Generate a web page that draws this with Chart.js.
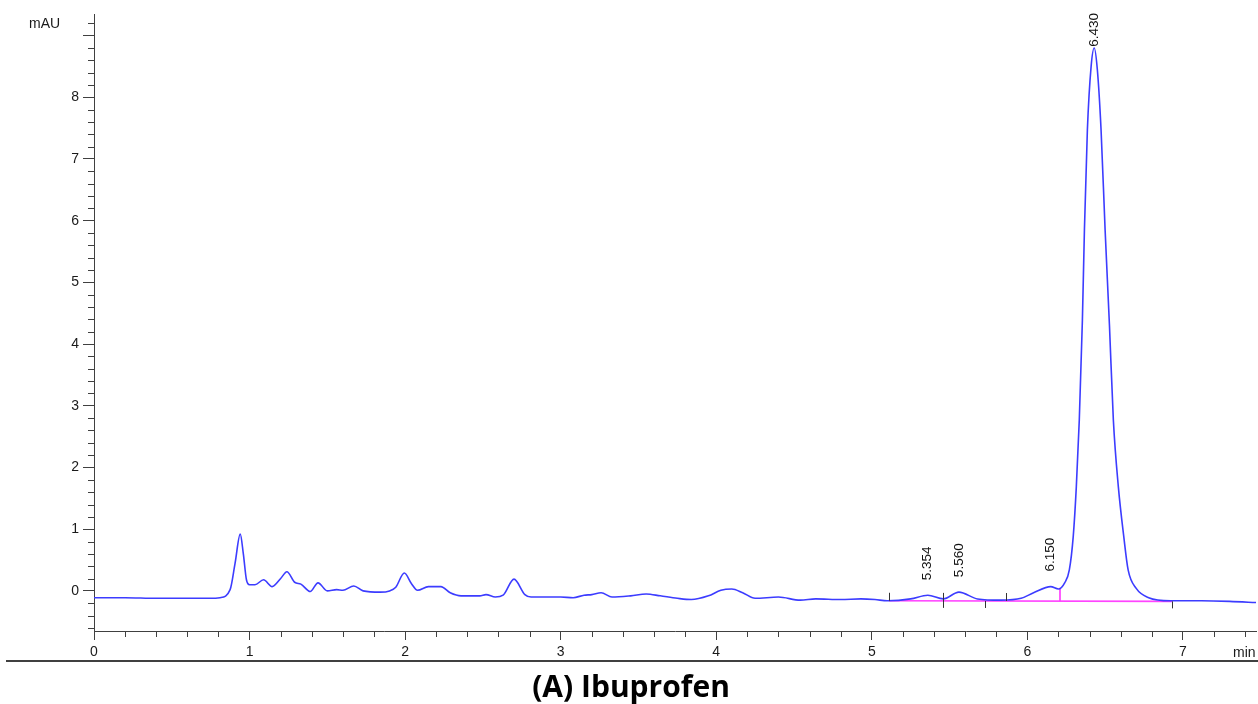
<!DOCTYPE html>
<html>
<head>
<meta charset="utf-8">
<script src="https://cdn.jsdelivr.net/npm/chart.js@4.4.1/dist/chart.umd.min.js"></script>
<style>
html,body{margin:0;padding:0;background:#fff;}
canvas{display:block;}
</style>
</head>
<body>
<canvas id="c" width="1258" height="704"></canvas>
<script>
// ---- data ----
const times = [0,0.2,0.4,0.6,0.75,0.81,0.875,0.907,0.94,0.96,0.98,1.0,1.035,1.09,1.145,1.2,1.24,1.29,1.33,1.39,1.44,1.5,1.56,1.6,1.67,1.73,1.84,1.9,1.94,1.995,2.04,2.08,2.15,2.23,2.29,2.36,2.48,2.52,2.58,2.63,2.7,2.77,2.81,3.0,3.08,3.15,3.2,3.26,3.33,3.45,3.55,3.64,3.75,3.84,3.95,4.03,4.1,4.17,4.25,4.4,4.54,4.64,4.8,4.93,5.02,5.1,5.25,5.36,5.46,5.56,5.68,5.83,5.96,6.04,6.15,6.2,6.24,6.27,6.295,6.315,6.334,6.354,6.367,6.386,6.41,6.43,6.45,6.474,6.5,6.528,6.553,6.585,6.62,6.648,6.7,6.78,6.92,7.12,7.3,7.48];
const signal = [-0.11,-0.11,-0.12,-0.12,-0.12,-0.11,0.02,0.45,0.92,0.6,0.18,0.1,0.1,0.18,0.07,0.2,0.31,0.14,0.11,-0.01,0.13,0.0,0.02,0.01,0.08,0.0,-0.02,0.0,0.06,0.29,0.12,0.01,0.07,0.07,-0.03,-0.08,-0.08,-0.06,-0.1,-0.07,0.19,-0.06,-0.1,-0.1,-0.11,-0.07,-0.06,-0.03,-0.1,-0.08,-0.05,-0.08,-0.12,-0.14,-0.08,0.01,0.03,-0.03,-0.12,-0.1,-0.15,-0.13,-0.14,-0.13,-0.14,-0.16,-0.13,-0.07,-0.13,-0.02,-0.13,-0.15,-0.12,-0.03,0.07,0.03,0.13,0.34,0.88,1.69,2.77,4.39,5.85,7.47,8.5,8.8,8.45,7.47,5.85,4.3,2.77,1.69,0.88,0.34,0.04,-0.11,-0.16,-0.16,-0.17,-0.19];

const baselineTimes = [5.11, 6.93];
const baselineValues = [-0.16, -0.17];
const dropTime = 6.21;
const dropTop = 0.05;

const peakTimes = [5.354, 5.560, 6.150, 6.430];
const peakApex = [-0.07, -0.02, 0.07, 8.8];

const eventTimes = [5.11, 5.46, 5.73, 5.86, 6.93];
const eventKinds = ['up', 'both', 'down', 'up', 'down'];

const xTicks = [0,1,2,3,4,5,6,7];
const xTickLabels = ['0','1','2','3','4','5','6','7'];
const yTicks = [0,1,2,3,4,5,6,7,8,9];
const yTickLabels = ['0','1','2','3','4','5','6','7','8',''];

const yUnit = 'mAU';
const xUnit = 'min';
const figTitle = '(A) Ibuprofen';

// ---- build ----
const tracePts = times.map((t,i)=>({x:t, y:signal[i]}));
const basePts = baselineTimes.map((t,i)=>({x:t, y:baselineValues[i]}));
function baseAt(t){
  const f=(t-baselineTimes[0])/(baselineTimes[1]-baselineTimes[0]);
  return baselineValues[0]+f*(baselineValues[1]-baselineValues[0]);
}
const dropPts = [{x:dropTime, y:baseAt(dropTime)}, {x:dropTime, y:dropTop}];

const AXIS = '#404040';
const TXT = '#1a1a1a';

const deco = {
  id:'deco',
  afterDatasetsDraw(chart){
    const {ctx, scales:{x,y}} = chart;
    ctx.save();
    ctx.strokeStyle = '#333';
    ctx.lineWidth = 1;
    eventTimes.forEach((t,i)=>{
      const px = Math.round(x.getPixelForValue(t))+0.5;
      const py = y.getPixelForValue(baseAt(t));
      const k = eventKinds[i];
      const up = (k==='up'||k==='both') ? 8 : 0;
      const dn = (k==='down'||k==='both') ? 7 : 0;
      ctx.beginPath();
      ctx.moveTo(px, py-up);
      ctx.lineTo(px, py+dn);
      ctx.stroke();
    });
    ctx.fillStyle = '#111';
    ctx.font = '13.5px "Liberation Sans", Arial, sans-serif';
    ctx.textAlign = 'left';
    ctx.textBaseline = 'middle';
    peakTimes.forEach((t,i)=>{
      const txt = t.toFixed(3);
      const w = ctx.measureText(txt).width;
      const px = x.getPixelForValue(t);
      let by = y.getPixelForValue(peakApex[i]) - 15;
      by = Math.max(by, 13 + w);
      ctx.save();
      ctx.translate(px, by);
      ctx.rotate(-Math.PI/2);
      ctx.fillText(txt, 0, 0);
      ctx.restore();
    });
    ctx.restore();
  },
  afterDraw(chart){
    const {ctx, scales:{x,y}, chartArea:a} = chart;
    ctx.save();
    ctx.strokeStyle = AXIS;
    ctx.lineWidth = 1;
    for (let k=-3; k<=46; k++){
      if (k%5===0) continue;
      const v = k/5;
      const py = Math.round(y.getPixelForValue(v))+0.5;
      if (py < a.top || py > a.bottom) continue;
      ctx.beginPath(); ctx.moveTo(a.left-6, py); ctx.lineTo(a.left, py); ctx.stroke();
    }
    for (let k=1; k<=37; k++){
      if (k%5===0) continue;
      const v = k/5;
      const px = Math.round(x.getPixelForValue(v))+0.5;
      if (px > a.right) continue;
      ctx.beginPath(); ctx.moveTo(px, a.bottom); ctx.lineTo(px, a.bottom+6); ctx.stroke();
    }
    ctx.fillStyle = TXT;
    ctx.font = '14px "Liberation Sans", Arial, sans-serif';
    ctx.textBaseline = 'middle';
    ctx.textAlign = 'left';
    ctx.fillText(yUnit, 29, 24);
    ctx.fillText(xUnit, 1233, 653);
    ctx.strokeStyle = '#000';
    ctx.lineWidth = 1.5;
    ctx.beginPath(); ctx.moveTo(6, 661); ctx.lineTo(1258, 661); ctx.stroke();
    ctx.fillStyle = '#000';
    ctx.font = 'bold 30px "Open Sans", sans-serif';
    ctx.textAlign = 'center';
    ctx.textBaseline = 'middle';
    ctx.fillText(figTitle, 631, 688);
    ctx.restore();
  }
};

new Chart(document.getElementById('c'), {
  type:'line',
  data:{
    datasets:[
      {data: basePts, borderColor:'#ff44ff', borderWidth:1.6, pointRadius:0, tension:0, order:2},
      {data: dropPts, borderColor:'#ff33ff', borderWidth:1.6, pointRadius:0, tension:0, order:2},
      {data: tracePts, borderColor:'#3c3cff', borderWidth:1.6, pointRadius:0, cubicInterpolationMode:'monotone', order:1}
    ]
  },
  options:{
    responsive:false,
    animation:false,
    layout:{padding:{left:0, right:2, top:14, bottom:43}},
    plugins:{legend:{display:false}, tooltip:{enabled:false}, title:{display:false}},
    scales:{
      x:{
        type:'linear', min:0, max:7.47,
        afterBuildTicks:(s)=>{ s.ticks = xTicks.map(v=>({value:v})); },
        afterFit:(s)=>{ s.height = 30; },
        ticks:{callback:(v,i)=>xTickLabels[i], color:TXT, font:{family:'"Liberation Sans", Arial, sans-serif', size:14}, padding:4, maxRotation:0, autoSkip:false},
        grid:{drawOnChartArea:false, tickLength:9, color:AXIS, tickWidth:1},
        border:{display:true, color:AXIS, width:1}
      },
      y:{
        type:'linear', min:-0.65, max:9.35,
        afterBuildTicks:(s)=>{ s.ticks = yTicks.map(v=>({value:v})); },
        afterFit:(s)=>{ s.width = 94; },
        ticks:{callback:(v,i)=>yTickLabels[i], color:TXT, font:{family:'"Liberation Sans", Arial, sans-serif', size:14}, padding:4, autoSkip:false},
        grid:{drawOnChartArea:false, tickLength:11, color:AXIS, tickWidth:1},
        border:{display:true, color:AXIS, width:1}
      }
    }
  },
  plugins:[deco]
});
</script>
</body>
</html>
